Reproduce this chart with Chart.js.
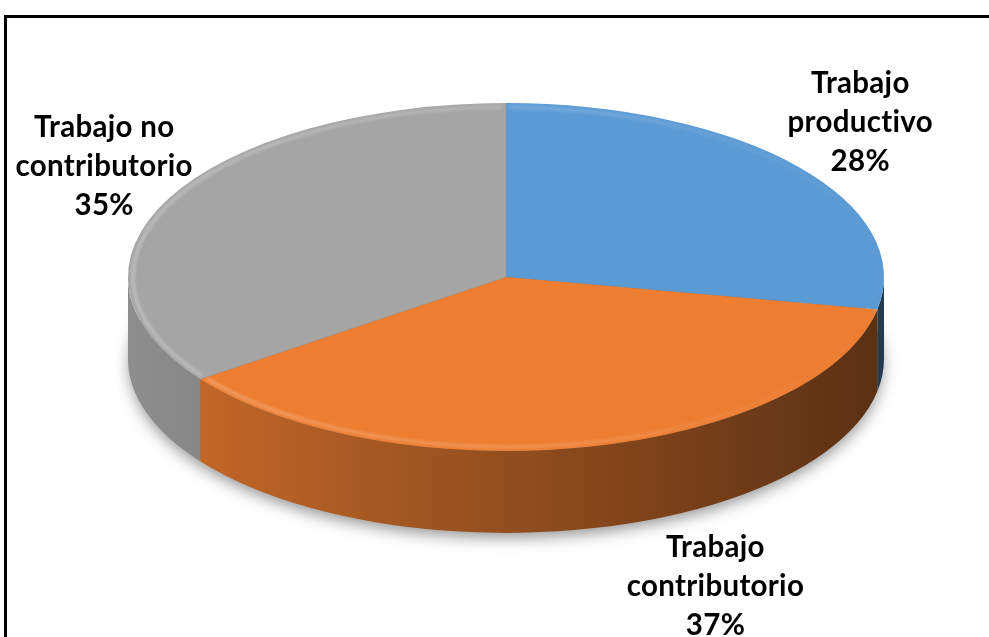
<!DOCTYPE html>
<html>
<head>
<meta charset="utf-8">
<script src="https://cdn.jsdelivr.net/npm/chart.js@4.4.1/dist/chart.umd.min.js"></script>
<style>
  html, body { margin: 0; padding: 0; background: #fff; overflow: hidden; }
  #wrap { position: relative; width: 989px; height: 637px; }
  #frame {
    position: absolute; left: 4px; top: 15px; width: 1100px; height: 700px;
    border-top: 3px solid #000; border-left: 3px solid #000; box-sizing: border-box;
  }
  canvas { position: absolute; left: 0; top: 0; }
</style>
</head>
<body>
<div id="wrap">
  <div id="frame"></div>
  <canvas id="c" width="989" height="637"></canvas>
</div>
<script>
// Category names, split into the lines shown in each label
const categories = [
  ['Trabajo', 'productivo'],
  ['Trabajo', 'contributorio'],
  ['Trabajo no', 'contributorio']
];
// Share of each kind of work (%)
const shares = [28, 37, 35];
const sliceColors = ['#5B9BD5', '#ED7D31', '#A5A5A5'];

// Look of the tilted, extruded pie
const TILT = 0.46;      // vertical squash of the top face
const DEPTH = 82;       // thickness of the pie wall
const LABEL_FONT = 'bold 29.5px Lato';
const LINE_GAP = 39;
// label placement relative to the outer edge point of each slice's mid angle
const labelShift = [[63, -34], [127, 149], [-65, -22]];

function hexToRgb(h) {
  const n = parseInt(h.slice(1), 16);
  return [(n >> 16) & 255, (n >> 8) & 255, n & 255];
}
function shade(h, f) {
  const [r, g, b] = hexToRgb(h);
  return `rgb(${Math.round(r * f)},${Math.round(g * f)},${Math.round(b * f)})`;
}
function tint(h, t, a) {
  const [r, g, b] = hexToRgb(h);
  const m = v => Math.round(v + (255 - v) * t);
  return `rgba(${m(r)},${m(g)},${m(b)},${a})`;
}

const pie3d = {
  id: 'pie3d',
  beforeDatasetsDraw(chart) {
    const ctx = chart.ctx;
    const arcs = chart.getDatasetMeta(0).data;
    const { x: cx, y: cy, outerRadius: r } = arcs[0].getProps(['x', 'y', 'outerRadius'], true);
    const ry = r * TILT;

    // soft shadow under the base
    ctx.save();
    ctx.shadowColor = 'rgba(0,0,0,0.45)';
    ctx.shadowBlur = 16;
    ctx.shadowOffsetY = 6;
    ctx.beginPath();
    ctx.ellipse(cx, cy + DEPTH, r - 2, ry - 2, 0, 0, Math.PI * 2);
    ctx.fillStyle = '#777';
    ctx.fill();
    ctx.restore();

    // front walls of each slice
    arcs.forEach((arc, i) => {
      const { startAngle, endAngle } = arc.getProps(['startAngle', 'endAngle'], true);
      const grad = ctx.createLinearGradient(cx - r, 0, cx + r, 0);
      grad.addColorStop(0, shade(sliceColors[i], 0.86));
      grad.addColorStop(1, shade(sliceColors[i], 0.38));
      for (const k of [-1, 0, 1]) {
        const a0 = Math.max(startAngle, k * 2 * Math.PI);
        const a1 = Math.min(endAngle, k * 2 * Math.PI + Math.PI);
        if (a1 <= a0) continue;
        ctx.beginPath();
        ctx.ellipse(cx, cy, r, ry, 0, a0, a1);
        ctx.ellipse(cx, cy + DEPTH, r, ry, 0, a1, a0, true);
        ctx.closePath();
        ctx.fillStyle = grad;
        ctx.fill();
      }
    });

    // squash the library's round pie into the top face
    ctx.save();
    ctx.translate(cx, cy);
    ctx.scale(1, TILT);
    ctx.translate(-cx, -cy);
  },
  afterDatasetsDraw(chart) {
    const ctx = chart.ctx;
    ctx.restore();
    const arcs = chart.getDatasetMeta(0).data;
    const { x: cx, y: cy, outerRadius: r } = arcs[0].getProps(['x', 'y', 'outerRadius'], true);
    const ry = r * TILT;

    // bevel light along the rim of the top face, fading towards the shaded right side
    arcs.forEach((arc, i) => {
      const { startAngle, endAngle } = arc.getProps(['startAngle', 'endAngle'], true);
      const g = ctx.createLinearGradient(cx - r, 0, cx + r, 0);
      g.addColorStop(0, tint(sliceColors[i], 0.3, 0.9));
      g.addColorStop(0.6, tint(sliceColors[i], 0.25, 0.6));
      g.addColorStop(1, tint(sliceColors[i], 0.2, 0));
      ctx.save();
      ctx.filter = 'blur(1.5px)';
      ctx.beginPath();
      ctx.ellipse(cx, cy, r - 5, ry - 4, 0, startAngle + 0.01, endAngle - 0.01);
      ctx.strokeStyle = g;
      ctx.lineWidth = 3.5;
      ctx.stroke();
      ctx.restore();
    });

    // data labels: category and percentage
    const total = shares.reduce((a, b) => a + b, 0);
    ctx.save();
    ctx.font = LABEL_FONT;
    if ('letterSpacing' in ctx) ctx.letterSpacing = '0.3px';
    ctx.fillStyle = '#000';
    ctx.textAlign = 'center';
    ctx.textBaseline = 'alphabetic';
    arcs.forEach((arc, i) => {
      const { startAngle, endAngle } = arc.getProps(['startAngle', 'endAngle'], true);
      const mid = (startAngle + endAngle) / 2;
      const ex = cx + Math.cos(mid) * r;
      const ey = cy + Math.sin(mid) * ry;
      const lx = ex + labelShift[i][0];
      const ly = ey + labelShift[i][1];
      const lines = [...categories[i], Math.round(shares[i] / total * 100) + '%'];
      lines.forEach((t, j) => ctx.fillText(t, lx, ly + (j - 1) * LINE_GAP));
    });
    ctx.restore();
  }
};

new Chart(document.getElementById('c'), {
  type: 'pie',
  data: {
    labels: categories,
    datasets: [{
      data: shares,
      backgroundColor: sliceColors,
      borderWidth: 0,
      radius: 378
    }]
  },
  options: {
    responsive: false,
    animation: false,
    layout: { padding: { left: 23, right: 0, top: 0, bottom: 83 } },
    plugins: { legend: { display: false }, tooltip: { enabled: false } }
  },
  plugins: [pie3d]
});
</script>
</body>
</html>
